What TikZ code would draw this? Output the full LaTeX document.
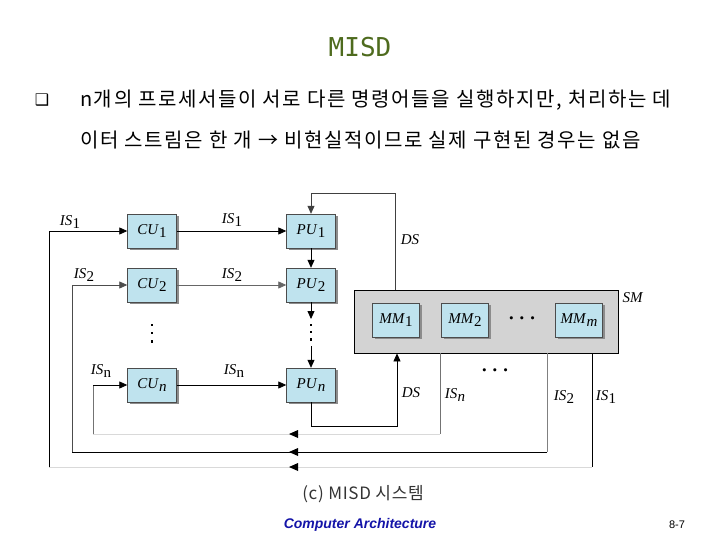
\documentclass[tikz,border=0pt]{standalone}
\usepackage{fontspec}
\setmainfont{Liberation Serif}
\newfontfamily\krfont[LetterSpace=8]{Noto Sans CJK KR}
\newfontfamily\krcap[LetterSpace=4]{Noto Sans CJK KR}
\newfontfamily\dvsfont{DejaVu Sans}
\newfontfamily\monofont{DejaVu Sans Mono}
\newfontfamily\lsansfont{Liberation Sans}
\usetikzlibrary{arrows.meta,shadows,calc}
\definecolor{boxblue}{HTML}{BFE3EE}
\definecolor{smgray}{HTML}{D3D3D3}
\definecolor{titlegreen}{HTML}{4E6B1E}
\definecolor{footblue}{HTML}{1414A8}
\newcommand\vsub[2]{\textit{#1}\kern0.3pt\raisebox{-0.4ex}{#2}}
\newcommand\lhead[1]{\fill (#1) ++(-4.5,0) -- ++(9,-4) -- ++(0,8) -- cycle;}
\begin{document}
\begin{tikzpicture}[x=1pt,y=-1pt,
  box/.style={draw=black!70,fill=boxblue,minimum width=49pt,minimum height=34pt,inner sep=0pt,
    font=\fontsize{15}{15}\selectfont,
    drop shadow={shadow xshift=2pt,shadow yshift=-2pt,fill=black!45,opacity=1}},
  mmbox/.style={box,minimum width=47pt},
  lab/.style={inner sep=0pt,font=\fontsize{15}{15}\selectfont},
  dots/.style={inner sep=0pt,font=\fontsize{20}{20}\selectfont\boldmath},
  arr/.style={-{Triangle[length=8pt,width=7pt]},line width=0.8pt},
  ln/.style={line width=0.8pt},
  faint/.style={line width=0.8pt,draw=black!15}]
\useasboundingbox (0,0) rectangle (720,540);
% title and text
\node[inner sep=0pt,text=titlegreen,font=\monofont\fontsize{26}{26}\selectfont] (title) at (360,47) {MISD};
\node[inner sep=0pt,font=\dvsfont\fontsize{16}{16}\selectfont] (bul) at (42,100) {❑};
\node[inner sep=0pt,anchor=west,font=\krfont\fontsize{20}{20}\selectfont] (t1) at (80,100) {n개의 프로세서들이 서로 다른 명령어들을 실행하지만, 처리하는 데};
\node[inner sep=0pt,anchor=west,font=\krfont\fontsize{20}{20}\selectfont] (t2) at (80,140) {이터 스트림은 한 개 → 비현실적이므로 실제 구현된 경우는 없음};
% units
\node[box] (cu1) at (152,231) {\vsub{CU}{1}};
\node[box] (cu2) at (152,285) {\vsub{CU}{2}};
\node[box] (cun) at (152,385) {\vsub{CU}{\textit{n}}};
\node[box] (pu1) at (311,231) {\vsub{PU}{1}};
\node[box] (pu2) at (311,285) {\vsub{PU}{2}};
\node[box] (pun) at (311,385) {\vsub{PU}{\textit{n}}};
\node[draw=black,fill=smgray,line width=0.8pt,minimum width=264pt,minimum height=63pt,inner sep=0pt] (sm) at (486,321.5) {};
\node[mmbox] (mm1) at (396,320) {\vsub{MM}{1}};
\node[mmbox] (mm2) at (465,320) {\vsub{MM}{2}};
\node[dots] (mmdots) at (522,319) {$\cdots$};
\node[mmbox] (mmm) at (579,320) {\vsub{MM}{\textit{m}}};
% coordinates
\coordinate (ds1) at (395,290);
\coordinate (dsb) at (397,426);
\coordinate (isnR) at (440,434);
\coordinate (isnL) at (93,434);
\coordinate (is2R) at (547,452);
\coordinate (is2L) at (72,452);
\coordinate (is1R) at (592,467);
\coordinate (is1L) at (49,467);
\coordinate (pda) at (311,319);
\coordinate (pdb) at (311,346);
% horizontal instruction streams
\draw[arr] (cu1) -- (pu1);
\draw[arr,draw=black!60] (cu2) -- (pu2);
\draw[arr] (cun) -- (pun);
% PU chain
\draw[arr] (pu1) -- (pu2);
\draw[arr] (pu2) -- (pda);
\draw[line width=2.2pt,dash pattern=on 2.2pt off 5pt] (311,324) -- (311,344);
\draw[arr] (pdb) -- (pun);
\draw[line width=2.2pt,dash pattern=on 2.2pt off 6pt] (152,324) -- (152,344);
% data streams
\draw[arr,draw=black!75] (ds1) |- ($(pu1.north)+(0,-20)$) -- (pu1.north);
\draw[arr] (pun.south) |- (dsb) -- (dsb |- sm.south);
% feedback IS_n
\draw[ln,draw=black!55] (sm.south -| isnR) -- (isnR);
\draw[faint] (isnR) -- (isnL);
\draw[ln,draw=black!55] (isnL) -- (isnL |- cun);
\draw[arr] (isnL |- cun) -- (cun.west);
% feedback IS_2
\draw[ln,draw=black!50] (sm.south -| is2R) -- (is2R);
\draw[ln] (is2R) -- (is2L);
\draw[ln,draw=black!70] (is2L) -- (is2L |- cu2);
\draw[arr,draw=black!70] (is2L |- cu2) -- (cu2.west);
% feedback IS_1
\draw[ln] (sm.south -| is1R) -- (is1R);
\draw[faint] (is1R) -- (is1L);
\draw[ln] (is1L) -- (is1L |- cu1);
\draw[arr] (is1L |- cu1) -- (cu1.west);
% mid arrowheads
\lhead{293.5,434}
\lhead{293.5,452}
\lhead{293.5,467}
% labels
\node[lab] (l1) at (70,222) {\vsub{IS}{1}};
\node[lab] (l2) at (232,220) {\vsub{IS}{1}};
\node[lab] (l3) at (84,275) {\vsub{IS}{2}};
\node[lab] (l4) at (232,275) {\vsub{IS}{2}};
\node[lab] (l5) at (101,371) {\vsub{IS}{n}};
\node[lab] (l6) at (234,371) {\vsub{IS}{n}};
\node[lab] (l7) at (410,240) {\textit{DS}};
\node[lab] (l8) at (411,393) {\textit{DS}};
\node[lab] (l9) at (455,395) {\vsub{IS}{\textit{n}}};
\node[dots] (l10) at (495,371) {$\cdots$};
\node[lab] (l11) at (564,397) {\vsub{IS}{2}};
\node[lab] (l12) at (606,397) {\vsub{IS}{1}};
\node[lab] (l13) at (633,298) {\textit{SM}};
% caption and footer
\node[inner sep=0pt,text=black!80,font=\krcap\fontsize{17}{17}\selectfont] (cap) at (363,494) {(c) MISD 시스템};
\node[inner sep=0pt,text=footblue,font=\lsansfont\bfseries\itshape\fontsize{14}{14}\selectfont] (foot) at (360,525) {Computer Architecture};
\node[inner sep=0pt,font=\lsansfont\fontsize{11}{11}\selectfont] (pg) at (677,525) {8-7};
\end{tikzpicture}
\end{document}
